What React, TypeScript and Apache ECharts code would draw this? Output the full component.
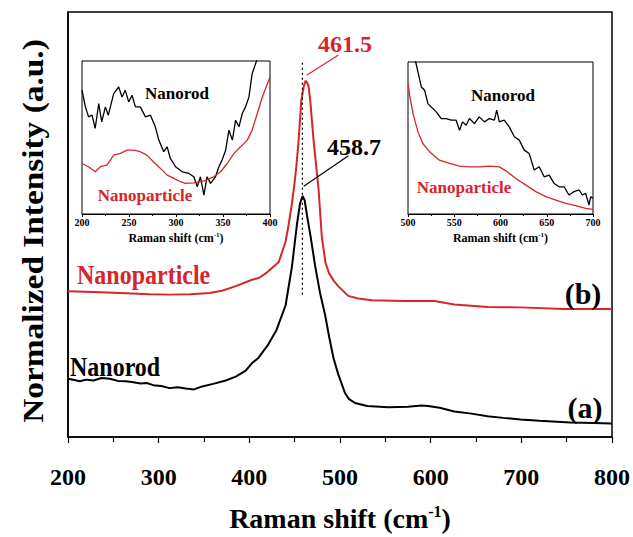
import React, { useEffect, useRef } from "react";
import * as echarts from "echarts";

// ---------- data ----------
// Main plot (Raman shift, normalized intensity, arbitrary offset units 0..100)
const rodX = [200, 207, 213, 220, 228, 237, 246, 255, 264, 272, 280, 287, 294, 303, 312, 321, 330, 339, 348, 360, 374, 385, 396, 403, 410, 421, 430, 440, 447, 452.5, 456, 458.7, 461, 463.5, 468, 472.7, 478, 483.6, 488, 492.8, 498, 505.6, 510, 516.6, 530, 553, 575, 590, 597, 610, 626, 645, 662.7, 680, 699, 720, 754, 780, 800];
const rodY = [13.7, 13.4, 13.1, 13.5, 13.3, 13.9, 13.7, 13.2, 13.1, 12.9, 12.6, 12.7, 12.2, 12.0, 11.5, 11.7, 11.4, 11.2, 11.9, 12.5, 13.3, 14.2, 15.6, 17.4, 18.6, 21.8, 25.2, 31.0, 40.1, 50.0, 55.0, 56.7, 55.7, 52.3, 46.6, 40.1, 33.9, 28.7, 23.6, 18.6, 14.8, 10.3, 8.9, 8.0, 7.3, 7.0, 7.1, 7.4, 7.3, 6.9, 6.0, 5.5, 4.9, 4.5, 4.1, 3.8, 3.4, 3.3, 3.2];

const partX = [200, 228, 264, 290, 312, 335, 356, 370, 385, 403, 410.5, 420, 432.5, 440, 443.4, 447, 450, 452, 454.4, 457.3, 460, 462, 463.5, 465.4, 467.2, 470.8, 476.3, 480, 484, 488, 493, 498, 509, 520, 535, 571, 604, 626, 663, 699, 747, 800];
const partY = [34.3, 34.1, 33.8, 33.6, 33.5, 33.6, 33.9, 34.4, 35.5, 37.0, 37.4, 38.8, 41.2, 46.0, 50.0, 55.0, 60.0, 64.0, 69.9, 79.1, 82.5, 83.8, 83.5, 82.5, 79.1, 69.9, 58.4, 47.0, 41.0, 38.5, 36.8, 35.5, 33.2, 32.6, 32.2, 32.0, 32.0, 31.2, 30.6, 30.5, 30.1, 30.1];

// dotted guide line at the peak position
const guideX = [458.5, 458.5];
const guideY = [33.5, 88.5];

// peak arrows (start, end) in data units
const redArrow = [[463.2, 85.1], [498.3, 89.9]];
const blackArrow = [[460.0, 59.0], [509.3, 66.2]];

// Inset 1 (200-400 cm-1), relative intensity 0..1
const in1RodX = [200, 203.6, 207, 210.7, 214, 217.8, 221, 224.9, 228, 233.7, 239, 242.6, 246, 249.7, 253.3, 256.8, 262, 267.5, 272.8, 278, 281.7, 287, 290.6, 294, 299.5, 306.6, 313.7, 319, 322.6, 326, 329.7, 333, 336.8, 342, 345.6, 349, 352.8, 356.3, 360, 363.4, 367, 370.5, 374, 377.6, 381, 384.7, 388];
const in1RodY = [0.809, 0.700, 0.635, 0.646, 0.559, 0.722, 0.602, 0.700, 0.646, 0.787, 0.830, 0.765, 0.809, 0.733, 0.776, 0.700, 0.700, 0.635, 0.646, 0.570, 0.483, 0.407, 0.439, 0.363, 0.309, 0.276, 0.265, 0.243, 0.178, 0.243, 0.124, 0.243, 0.200, 0.243, 0.309, 0.352, 0.417, 0.548, 0.483, 0.613, 0.570, 0.657, 0.700, 0.765, 0.917, 0.983, 1.048];
const in1PartX = [200, 207, 214, 219.5, 226.6, 233.7, 240.8, 248, 255, 262, 269, 276, 283.5, 290.6, 297.7, 304.8, 310, 319, 329.7, 340, 347.5, 354.5, 361.7, 368.7, 375.8, 381, 386.5, 391.8, 400];
const in1PartY = [0.330, 0.309, 0.276, 0.309, 0.320, 0.385, 0.396, 0.417, 0.417, 0.407, 0.385, 0.341, 0.298, 0.254, 0.233, 0.211, 0.200, 0.204, 0.217, 0.243, 0.276, 0.330, 0.396, 0.439, 0.483, 0.548, 0.657, 0.765, 0.896];

// Inset 2 (500-700 cm-1)
const in2RodX = [505, 508.3, 510.8, 514.4, 518, 521.5, 525, 530.5, 536, 541.3, 546.7, 552, 555.7, 559, 562.8, 566.4, 571.8, 577, 582.6, 588, 593.4, 595.9, 598.7, 604, 609.5, 615, 620.3, 625.7, 631, 636.5, 641.8, 647.2, 652.6, 658, 663.4, 668.8, 674, 679.5, 685, 688.5, 692, 695.7, 697.5, 700];
const in2RodY = [1.10, 1.0, 0.934, 0.836, 0.814, 0.726, 0.705, 0.672, 0.628, 0.628, 0.617, 0.617, 0.551, 0.606, 0.584, 0.628, 0.595, 0.639, 0.606, 0.628, 0.617, 0.683, 0.606, 0.617, 0.573, 0.508, 0.486, 0.420, 0.398, 0.289, 0.311, 0.245, 0.256, 0.201, 0.179, 0.179, 0.125, 0.147, 0.158, 0.125, 0.136, 0.059, 0.114, 0.103];
const in2PartX = [500, 501.8, 505.4, 510.8, 516, 523.3, 534, 545, 555.7, 566.4, 577, 588, 598.7, 605.9, 616.7, 627.5, 638.2, 649, 659.8, 670.6, 681.3, 692, 700];
const in2PartY = [0.858, 0.780, 0.660, 0.540, 0.464, 0.410, 0.354, 0.333, 0.315, 0.310, 0.310, 0.315, 0.310, 0.284, 0.234, 0.190, 0.147, 0.114, 0.092, 0.070, 0.055, 0.037, 0.031];

const mainTicks = { min: 200, max: 800, interval: 100 };
const inset1Ticks = { min: 200, max: 400, interval: 50 };
const inset2Ticks = { min: 500, max: 700, interval: 50 };

const peakRed = "461.5";
const peakBlack = "458.7";
const yTitle = "Normalized Intensity (a.u.)";

// ---------- styling ----------
const RED = "#d5262b";
const BLACK = "#000000";
const FONT = "'Liberation Serif', 'Times New Roman', Times, serif";

const zip = (xs: number[], ys: number[]) => xs.map((x, i) => [x, ys[i]]);

export default function App() {
  const ref = useRef<HTMLDivElement>(null);

  useEffect(() => {
    if (!ref.current) return;
    const chart = echarts.init(ref.current, null, { renderer: "svg" });

    const insetX = (gi: number, t: { min: number; max: number; interval: number }) => ({
      type: "value",
      gridIndex: gi,
      min: t.min,
      max: t.max,
      interval: t.interval,
      axisLine: { show: true, lineStyle: { color: BLACK, width: 1 } },
      axisTick: { show: true, inside: false, length: 3, lineStyle: { color: BLACK } },
      minorTick: { show: true, splitNumber: 2, length: 2, lineStyle: { color: BLACK } },
      splitLine: { show: false },
      axisLabel: { color: BLACK, fontFamily: FONT, fontWeight: "bold", fontSize: 10, margin: 3 },
      name: "Raman shift (cm{sup|-1})",
      nameLocation: "middle",
      nameGap: 17,
      nameTextStyle: {
        color: BLACK,
        fontFamily: FONT,
        fontWeight: "bold",
        fontSize: 12,
        rich: {
          sup: { fontFamily: FONT, fontWeight: "bold", fontSize: 7, verticalAlign: "top", color: BLACK, padding: [0, 0, 6, 0] },
        },
      },
    });

    const insetY = (gi: number) => ({
      type: "value",
      gridIndex: gi,
      min: 0,
      max: 1,
      axisLine: { show: true, lineStyle: { color: BLACK, width: 1 } },
      axisTick: { show: false },
      axisLabel: { show: false },
      splitLine: { show: false },
    });

    const line = (name: string, xi: number, data: number[][], color: string, width: number, z = 2) => ({
      name,
      type: "line",
      xAxisIndex: xi,
      yAxisIndex: xi,
      data,
      showSymbol: false,
      symbol: "none",
      smooth: false,
      clip: true,
      z,
      lineStyle: { color, width },
    });

    const textEl = (text: string, x: number, y: number, size: number, color: string, align = "center", extra: any = {}) => ({
      type: "text",
      x,
      y,
      z: 100,
      ...extra,
      style: {
        text,
        fill: color,
        fontFamily: FONT,
        fontWeight: "bold",
        fontSize: size,
        align,
        verticalAlign: "middle",
      },
    });

    const option: any = {
      animation: false,
      backgroundColor: "#ffffff",
      grid: [
        { left: 68, top: 12, width: 547, height: 436, show: true, borderColor: BLACK, borderWidth: 1.5, backgroundColor: "transparent", containLabel: false },
        { left: 82, top: 61, width: 188, height: 153, show: true, borderColor: BLACK, borderWidth: 1, backgroundColor: "#ffffff", z: 3 },
        { left: 408, top: 62, width: 185, height: 152, show: true, borderColor: BLACK, borderWidth: 1, backgroundColor: "#ffffff", z: 3 },
      ],
      xAxis: [
        {
          type: "value",
          gridIndex: 0,
          min: mainTicks.min,
          max: mainTicks.max,
          interval: mainTicks.interval,
          axisLine: { show: true, lineStyle: { color: BLACK, width: 1.5 } },
          axisTick: { show: true, inside: false, length: 6, lineStyle: { color: BLACK, width: 1.2 } },
          minorTick: { show: true, splitNumber: 2, length: 5, lineStyle: { color: BLACK, width: 1.2 } },
          splitLine: { show: false },
          axisLabel: { color: BLACK, fontFamily: FONT, fontWeight: "bold", fontSize: 24, margin: 28 },
          name: "Raman shift (cm{sup|-1})",
          nameLocation: "middle",
          nameGap: 66,
          nameTextStyle: {
            color: BLACK,
            fontFamily: FONT,
            fontWeight: "bold",
            fontSize: 28,
            rich: {
              sup: { fontFamily: FONT, fontWeight: "bold", fontSize: 16, verticalAlign: "top", color: BLACK, padding: [0, 0, 14, 0] },
            },
          },
        },
        insetX(1, inset1Ticks),
        insetX(2, inset2Ticks),
      ],
      yAxis: [
        {
          type: "value",
          gridIndex: 0,
          min: 0,
          max: 100,
          axisLine: { show: true, lineStyle: { color: BLACK, width: 1.5 } },
          axisTick: { show: false },
          axisLabel: { show: false },
          splitLine: { show: false },
        },
        insetY(1),
        insetY(2),
      ],
      series: [
        {
          ...line("Nanorod", 0, zip(rodX, rodY), BLACK, 2),
          markLine: {
            silent: true,
            symbol: ["none", "arrow"],
            symbolSize: [0, 8],
            label: { show: false },
            data: [
              [
                { coord: blackArrow[0], lineStyle: { color: BLACK, width: 1.2, type: "solid" } },
                { coord: blackArrow[1] },
              ],
              [
                { coord: redArrow[0], lineStyle: { color: RED, width: 1.2, type: "solid" } },
                { coord: redArrow[1] },
              ],
            ],
          },
        },
        line("Nanoparticle", 0, zip(partX, partY), RED, 2),
        {
          ...line("guide", 0, zip(guideX, guideY), BLACK, 1.2),
          lineStyle: { color: BLACK, width: 1.2, type: [2, 3] },
        },
        line("Nanorod inset 1", 1, zip(in1RodX, in1RodY), BLACK, 1.3, 5),
        line("Nanoparticle inset 1", 1, zip(in1PartX, in1PartY), RED, 1.3, 5),
        line("Nanorod inset 2", 2, zip(in2RodX, in2RodY), BLACK, 1.3, 5),
        line("Nanoparticle inset 2", 2, zip(in2PartX, in2PartY), RED, 1.3, 5),
      ],
      graphic: [
        textEl(yTitle, 33, 231, 29, BLACK, "center", { rotation: Math.PI / 2, scaleX: 1.15 }),
        textEl(peakRed, 345, 44, 24, RED),
        textEl(peakBlack, 354, 147, 24, BLACK),
        textEl("Nanoparticle", 77, 275, 24, RED, "left", { scaleY: 1.1 }),
        textEl("Nanorod", 70, 367, 24, BLACK, "left", { scaleY: 1.1 }),
        textEl("(b)", 583, 293, 30, BLACK),
        textEl("(a)", 585, 407, 30, BLACK),
        textEl("Nanorod", 177, 93, 17, BLACK),
        textEl("Nanoparticle", 145, 195, 17, RED),
        textEl("Nanorod", 503, 95, 17, BLACK),
        textEl("Nanoparticle", 464, 187, 17, RED),
      ],
    };

    chart.setOption(option);
    return () => chart.dispose();
  }, []);

  return (
    <div
      ref={ref}
      style={{ position: "fixed", left: 0, top: 0, width: 633, height: 537, background: "#fff" }}
    />
  );
}
